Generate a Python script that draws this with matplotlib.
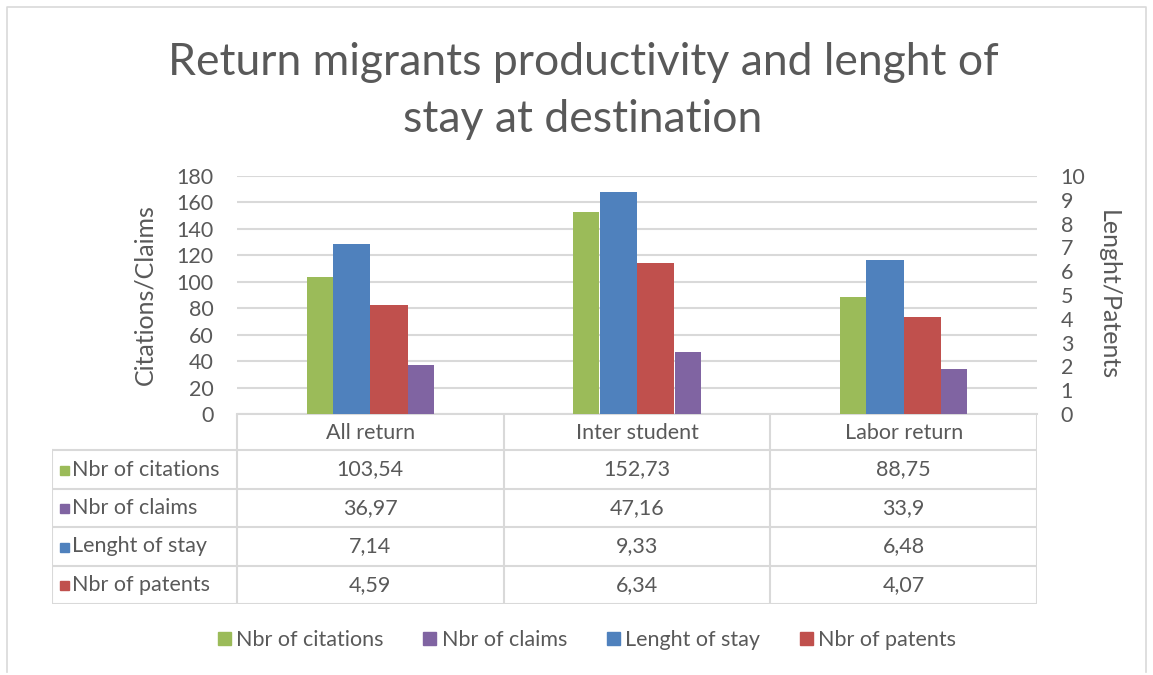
"""
Return migrants productivity vs. length of stay, Excel-style column chart
with a data table underneath.
"""
import matplotlib
matplotlib.use('Agg')
import matplotlib.pyplot as plt
from matplotlib.patches import Patch, Rectangle
import numpy as np

# Data
categories = ['All return', 'Inter student', 'Labor return']
citations = [103.54, 152.73, 88.75]
claims = [36.97, 47.16, 33.9]
stay = [7.14, 9.33, 6.48]
patents = [4.59, 6.34, 4.07]

left_ticks = list(range(0, 181, 20))
right_ticks = list(range(0, 11))

GREEN, PURPLE, BLUE, RED = '#9BBB59', '#8064A2', '#4F81BD', '#C0504D'
TXT = '#595959'
GRID = '#D9D9D9'
FS = 15.5

plt.rcParams['font.family'] = ['Lato', 'DejaVu Sans']

W, H = 1153, 675
fig = plt.figure(figsize=(W / 100, H / 100), dpi=100)


def box(x0, y0, x1, y1):
    # pixel box (top-left origin) -> figure fraction rect
    return [x0 / W, 1 - y1 / H, (x1 - x0) / W, (y1 - y0) / H]


# outer chart frame
frame = fig.add_axes([0, 0, 1, 1])
frame.set_xlim(0, W)
frame.set_ylim(H, 0)
frame.axis('off')
frame.plot([7, 7, 1146, 1146], [672, 7, 7, 672], color=GRID, lw=1.2)

# plot area
PX0, PX1, PY0, PY1 = 237, 1037, 176, 414
ax = fig.add_axes(box(PX0, PY0, PX1, PY1))
ax2 = ax.twinx()

x = np.arange(len(categories))
ax.bar(x - 0.19, citations, 0.0975, color=GREEN, zorder=3)
ax.bar(x + 0.19, claims, 0.0975, color=PURPLE, zorder=3)
ax2.bar(x - 0.07, stay, 0.14, color=BLUE, zorder=3)
ax2.bar(x + 0.07, patents, 0.14, color=RED, zorder=3)

ax.set_xlim(-0.5, len(categories) - 0.5)
ax.set_ylim(0, 180)
ax2.set_ylim(0, 10)
ax.set_yticks(left_ticks)
ax2.set_yticks(right_ticks)
ax.set_xticks([])
ax.yaxis.grid(True, color=GRID, lw=1.5)
ax.set_axisbelow(True)
for a in (ax, ax2):
    for s in a.spines.values():
        s.set_visible(False)
    a.tick_params(axis='y', length=0, labelsize=FS, labelcolor=TXT, pad=17)
ax.spines['bottom'].set_visible(True)
ax.spines['bottom'].set_color(GRID)
ax.spines['bottom'].set_linewidth(1.5)
ax.set_ylabel('Citations/Claims', fontsize=18, color=TXT, labelpad=14)
ax2.set_ylabel('Lenght/Patents', fontsize=18, color=TXT, rotation=-90,
               labelpad=25)

fig.text(583 / W, 1 - 91 / H,
         'Return migrants productivity and lenght of\nstay at destination',
         ha='center', va='center', fontsize=32, color=TXT, linespacing=1.5)

# data table
TX0, TY1 = 52, 604
tab = fig.add_axes(box(TX0, PY1, PX1, TY1))
tab.set_xlim(TX0, PX1)
tab.set_ylim(TY1, PY1)
tab.axis('off')
col_w = (PX1 - PX0) / len(categories)
cols = [PX0 + i * col_w for i in range(len(categories) + 1)]
rows = [414, 450, 489, 527, 566, 604]
lk = dict(color=GRID, lw=1.5, solid_capstyle='projecting')
for c in cols:
    tab.plot([c, c], [rows[0], rows[-1]], **lk)
tab.plot([TX0, TX0], [rows[1], rows[-1]], **lk)
for r in rows[1:]:
    tab.plot([TX0, PX1], [r, r], **lk)
for i, cat in enumerate(categories):
    tab.text((cols[i] + cols[i + 1]) / 2, (rows[0] + rows[1]) / 2 + 1, cat,
             ha='center', va='center', fontsize=FS, color=TXT)

series = [('Nbr of citations', citations, GREEN),
          ('Nbr of claims', claims, PURPLE),
          ('Lenght of stay', stay, BLUE),
          ('Nbr of patents', patents, RED)]
for k, (name, vals, col) in enumerate(series):
    yc = (rows[k + 1] + rows[k + 2]) / 2
    tab.add_patch(Rectangle((60, yc - 4), 9, 9, color=col))
    tab.text(72, yc, name, ha='left', va='center', fontsize=FS, color=TXT)
    for i, v in enumerate(vals):
        tab.text((cols[i] + cols[i + 1]) / 2, yc, f'{v:g}'.replace('.', ','),
                 ha='center', va='center', fontsize=FS, color=TXT)

handles = [Patch(color=c, label=n) for n, _, c in series]
fig.legend(handles=handles, loc='center', ncol=4,
           bbox_to_anchor=(587 / W, 1 - 640 / H), frameon=False,
           fontsize=FS, handlelength=0.6, handleheight=0.6,
           handletextpad=0.25, columnspacing=1.85, labelcolor=TXT)

fig.savefig('out.png', dpi=100)
